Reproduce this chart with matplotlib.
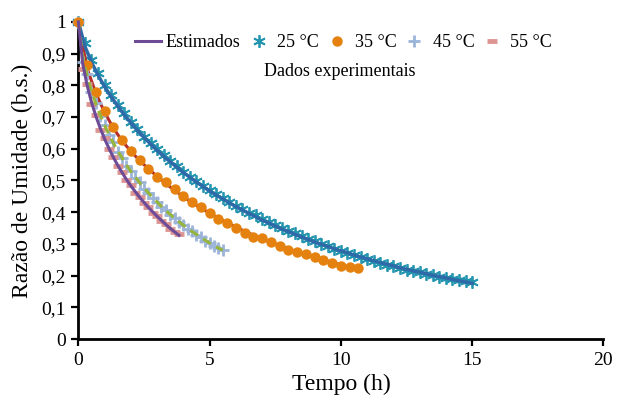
import numpy as np
import matplotlib.pyplot as plt
from matplotlib.ticker import FuncFormatter, MultipleLocator
plt.switch_backend('agg')

plt.rcParams['font.family'] = ['Liberation Serif', 'DejaVu Serif']

# tempo em minutos
t25 = [0, 15, 30, 45, 60, 75, 90, 105, 120, 135, 150, 165, 180, 195, 210, 225, 240,
       255, 270, 285, 300, 315, 330, 345, 360, 375, 390, 405, 420, 435, 450, 465, 480,
       495, 510, 525, 540, 555, 570, 585, 600, 615, 630, 645, 660, 675, 690, 705, 720,
       735, 750, 765, 780, 795, 810, 825, 840, 855, 870, 885, 900]
t35 = [0, 20, 40, 60, 80, 100, 120, 140, 160, 180, 200, 220, 240, 260, 280, 300, 320,
       340, 360, 380, 400, 420, 440, 460, 480, 500, 520, 540, 560, 580, 600, 620, 640]
t45 = [0, 10, 20, 30, 40, 50, 60, 70, 80, 90, 100, 110, 120, 130, 140, 150, 160, 170,
       180, 190, 200, 210, 220, 230, 240, 250, 260, 270, 280, 290, 300, 310, 320, 330]
t55 = [0, 10, 20, 30, 40, 50, 60, 70, 80, 90, 100, 110, 120, 130, 140, 150, 160, 170,
       180, 190, 200, 210, 220, 230]

# dados experimentais
exp25 = [1.0, 0.935, 0.880, 0.838, 0.800, 0.770, 0.738, 0.712, 0.684, 0.662, 0.638,
         0.618, 0.598, 0.580, 0.560, 0.545, 0.527, 0.512, 0.497, 0.483, 0.470, 0.456,
         0.445, 0.432, 0.421, 0.410, 0.399, 0.390, 0.380, 0.370, 0.360, 0.350, 0.341,
         0.333, 0.324, 0.316, 0.308, 0.300, 0.292, 0.285, 0.278, 0.271, 0.264, 0.258,
         0.251, 0.246, 0.240, 0.235, 0.229, 0.224, 0.219, 0.214, 0.210, 0.205, 0.201,
         0.197, 0.193, 0.189, 0.186, 0.183, 0.180]
exp35 = [1.0, 0.865, 0.780, 0.718, 0.668, 0.628, 0.594, 0.565, 0.535, 0.512, 0.494,
         0.472, 0.452, 0.432, 0.415, 0.396, 0.378, 0.365, 0.350, 0.336, 0.322, 0.318,
         0.306, 0.294, 0.282, 0.276, 0.268, 0.258, 0.248, 0.240, 0.232, 0.226, 0.224]
exp45 = [1.0, 0.875, 0.835, 0.778, 0.745, 0.702, 0.676, 0.642, 0.620, 0.590, 0.572,
         0.546, 0.530, 0.508, 0.495, 0.474, 0.462, 0.444, 0.433, 0.416, 0.406, 0.391,
         0.382, 0.368, 0.360, 0.347, 0.340, 0.328, 0.321, 0.310, 0.304, 0.294, 0.288,
         0.280]
exp55 = [1.0, 0.850, 0.805, 0.740, 0.706, 0.660, 0.633, 0.598, 0.575, 0.545, 0.527,
         0.500, 0.485, 0.462, 0.449, 0.428, 0.417, 0.398, 0.389, 0.372, 0.362, 0.347,
         0.339, 0.330]

# valores estimados
est25 = [1.0, 0.923, 0.873, 0.832, 0.796, 0.764, 0.735, 0.707, 0.682, 0.658, 0.636,
         0.615, 0.595, 0.576, 0.559, 0.542, 0.525, 0.510, 0.495, 0.481, 0.467, 0.454,
         0.442, 0.430, 0.418, 0.407, 0.396, 0.386, 0.375, 0.366, 0.356, 0.347, 0.339,
         0.330, 0.322, 0.314, 0.306, 0.299, 0.292, 0.285, 0.278, 0.272, 0.265, 0.259,
         0.253, 0.247, 0.241, 0.236, 0.231, 0.225, 0.220, 0.215, 0.211, 0.206, 0.201,
         0.197, 0.193, 0.188, 0.184, 0.180, 0.176]
est35 = [1.0, 0.853, 0.775, 0.715, 0.665, 0.625, 0.592, 0.563, 0.537, 0.513, 0.490,
         0.469, 0.449, 0.430, 0.413, 0.397, 0.381, 0.367, 0.353, 0.340, 0.328, 0.316,
         0.305, 0.295, 0.285, 0.275, 0.266, 0.258, 0.250, 0.242, 0.234, 0.227, 0.220]
est45 = [1.0, 0.891, 0.831, 0.782, 0.742, 0.706, 0.674, 0.645, 0.618, 0.593, 0.571,
         0.549, 0.529, 0.511, 0.493, 0.477, 0.461, 0.446, 0.432, 0.418, 0.405, 0.393,
         0.381, 0.370, 0.359, 0.349, 0.339, 0.330, 0.320, 0.312, 0.303, 0.295, 0.287,
         0.280]
est55 = [1.0, 0.868, 0.800, 0.747, 0.703, 0.665, 0.631, 0.601, 0.573, 0.548, 0.525,
         0.503, 0.483, 0.465, 0.447, 0.431, 0.415, 0.401, 0.387, 0.374, 0.361, 0.349,
         0.338, 0.327]

labels = ['25 °C', '35 °C', '45 °C', '55 °C']

h = lambda t: np.array(t) / 60.0

fig = plt.figure(figsize=(6.17, 3.98), dpi=100)
ax = fig.add_axes([0.127, 0.148, 0.851, 0.797])

# 25
m25, = ax.plot(h(t25), exp25, ls='none', marker=(6, 2, 0), ms=9, mew=1.3,
               color='#2596b0', zorder=3, clip_on=False)
ax.plot(h(t25), est25, color='#2f6aa8', lw=2.5, zorder=4, clip_on=False)
# 35
ax.plot(h(t35), est35, color='#b5302a', lw=2.2, zorder=3, clip_on=False)
m35, = ax.plot(h(t35), exp35, ls='none', marker='o', ms=7.5, color='#e5820f',
               mec='none', zorder=4, clip_on=False)
# 45
m45, = ax.plot(h(t45), exp45, ls='none', marker='+', ms=9, mew=2,
               color='#9cb4d8', zorder=3, clip_on=False)
ax.plot(h(t45), est45, color='#96b53a', lw=2.2, ls=(0, (3, 2)), zorder=4, clip_on=False)
# 55
m55, = ax.plot(h(t55), exp55, ls='none', marker='_', ms=6.5, mew=3.5,
               color='#dc9593', zorder=3, clip_on=False)
l55, = ax.plot(h(t55), est55, color='#6e4b96', lw=2.2, zorder=4, clip_on=False)

ax.set_xlim(0, 20)
ax.set_ylim(0, 1)
ax.xaxis.set_major_locator(MultipleLocator(5))
ax.yaxis.set_major_locator(MultipleLocator(0.1))
ax.yaxis.set_major_formatter(FuncFormatter(
    lambda v, p: '%d' % round(v) if abs(v - round(v)) < 1e-6 else ('%.1f' % v).replace('.', ',')))

for s in ['top', 'right']:
    ax.spines[s].set_visible(False)
for s in ['left', 'bottom']:
    ax.spines[s].set_linewidth(2)
ax.tick_params(direction='out', length=5, width=1.6, labelsize=14, pad=4)

ax.set_xlabel('Tempo (h)', fontsize=17, labelpad=4)
ax.set_ylabel('Razão de Umidade (b.s.)', fontsize=17, labelpad=6)

fig.legend([l55, m25, m35, m45, m55], ['Estimados'] + labels,
           loc='center', bbox_to_anchor=(0.557, 0.893), ncol=5, frameon=False,
           fontsize=13, handlelength=1.4, handletextpad=0.3, columnspacing=0.3)
fig.text(0.551, 0.82, 'Dados experimentais', ha='center', va='center', fontsize=13)

fig.savefig('out.png', dpi=100)
